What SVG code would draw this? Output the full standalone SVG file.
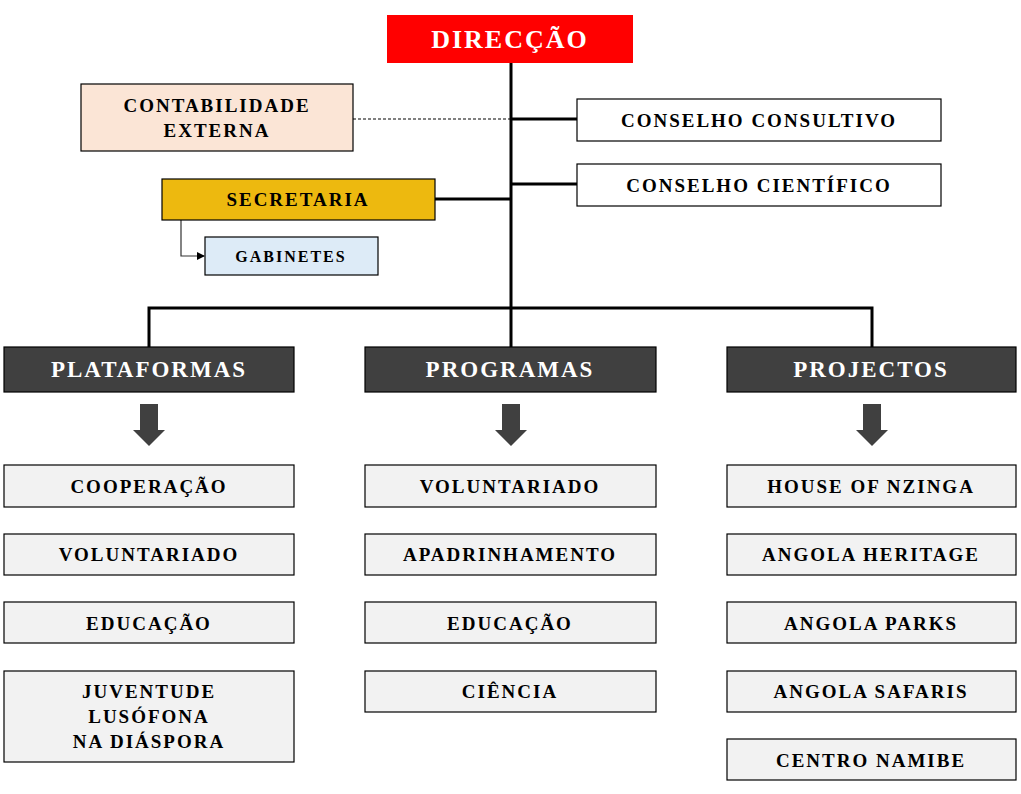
<svg xmlns="http://www.w3.org/2000/svg" width="1021" height="794" viewBox="0 0 1021 794">
<style>
text{font-family:"Liberation Serif","Times New Roman",serif;font-weight:bold;text-anchor:middle;dominant-baseline:central;letter-spacing:2px}
.b{stroke:#000;stroke-width:1.2}
.it{fill:#F2F2F2;stroke:#000;stroke-width:1.2}
.it+text{font-size:19px}
.cat{fill:#404040;stroke:#000;stroke-width:1.2}
.ln{stroke:#000;stroke-width:3;fill:none}
.ar{fill:#404040}
</style>
<defs><marker id="m" markerWidth="8" markerHeight="8" refX="7" refY="4" orient="auto" markerUnits="userSpaceOnUse"><path d="M0,0L8,4L0,8z" fill="#000"/></marker></defs>
<g id="connectors">
<path class="ln" d="M511,63V347M511,119H577M511,184H577M435,199H511M149,347V308H872V347"/>
<path d="M353,119H511" stroke="#000" stroke-width="1" stroke-dasharray="3,2"/>
<path d="M181,220V256H204" stroke="#333" stroke-width="1.2" fill="none" marker-end="url(#m)"/>
<path class="ar" d="M140,404H158V430H165L149,446L133,430H140z"/>
<path class="ar" d="M502,404H520V430H527L511,446L495,430H502z"/>
<path class="ar" d="M863,404H881V430H888L872,446L856,430H863z"/>
</g>
<g id="direccao"><rect x="387" y="15" width="246" height="48" fill="#FF0000"/><text x="510" y="39" fill="#fff" font-size="26">DIRECÇÃO</text></g>
<g id="contabilidade"><rect class="b" x="81" y="84" width="272" height="67" fill="#FBE5D6"/><text x="217" y="105" font-size="19">CONTABILIDADE</text><text x="217" y="130" font-size="19">EXTERNA</text></g>
<g id="consultivo"><rect class="b" x="577" y="99" width="364" height="42" fill="#fff"/><text x="759" y="120" font-size="19">CONSELHO CONSULTIVO</text></g>
<g id="cientifico"><rect class="b" x="577" y="164" width="364" height="42" fill="#fff"/><text x="759" y="185" font-size="19">CONSELHO CIENTÍFICO</text></g>
<g id="secretaria"><rect class="b" x="162" y="179" width="273" height="41" fill="#EDB90F"/><text x="298" y="199" font-size="19">SECRETARIA</text></g>
<g id="gabinetes"><rect class="b" x="205" y="237" width="173" height="38" fill="#DDEBF7"/><text x="291" y="256" font-size="16">GABINETES</text></g>
<g id="plataformas"><rect class="cat" x="4" y="347" width="290" height="45"/><text x="149" y="369" fill="#fff" font-size="23">PLATAFORMAS</text></g>
<g id="programas"><rect class="cat" x="365" y="347" width="291" height="45"/><text x="510" y="369" fill="#fff" font-size="23">PROGRAMAS</text></g>
<g id="projectos"><rect class="cat" x="727" y="347" width="289" height="45"/><text x="871" y="369" fill="#fff" font-size="23">PROJECTOS</text></g>
<g id="p1"><rect class="it" x="4" y="465" width="290" height="42"/><text x="149" y="486">COOPERAÇÃO</text></g>
<g id="p2"><rect class="it" x="4" y="534" width="290" height="41"/><text x="149" y="554">VOLUNTARIADO</text></g>
<g id="p3"><rect class="it" x="4" y="602" width="290" height="41"/><text x="149" y="623">EDUCAÇÃO</text></g>
<g id="p4"><rect class="it" x="4" y="671" width="290" height="91"/><text x="149" y="691">JUVENTUDE</text><text x="149" y="716" font-size="19">LUSÓFONA</text><text x="149" y="741" font-size="19">NA DIÁSPORA</text></g>
<g id="g1"><rect class="it" x="365" y="465" width="291" height="42"/><text x="510" y="486">VOLUNTARIADO</text></g>
<g id="g2"><rect class="it" x="365" y="534" width="291" height="41"/><text x="510" y="554">APADRINHAMENTO</text></g>
<g id="g3"><rect class="it" x="365" y="602" width="291" height="41"/><text x="510" y="623">EDUCAÇÃO</text></g>
<g id="g4"><rect class="it" x="365" y="671" width="291" height="41"/><text x="510" y="691">CIÊNCIA</text></g>
<g id="j1"><rect class="it" x="727" y="465" width="289" height="42"/><text x="871" y="486">HOUSE OF NZINGA</text></g>
<g id="j2"><rect class="it" x="727" y="534" width="289" height="41"/><text x="871" y="554">ANGOLA HERITAGE</text></g>
<g id="j3"><rect class="it" x="727" y="602" width="289" height="41"/><text x="871" y="623">ANGOLA PARKS</text></g>
<g id="j4"><rect class="it" x="727" y="671" width="289" height="41"/><text x="871" y="691">ANGOLA SAFARIS</text></g>
<g id="j5"><rect class="it" x="727" y="739" width="289" height="41"/><text x="871" y="760">CENTRO NAMIBE</text></g>
</svg>
